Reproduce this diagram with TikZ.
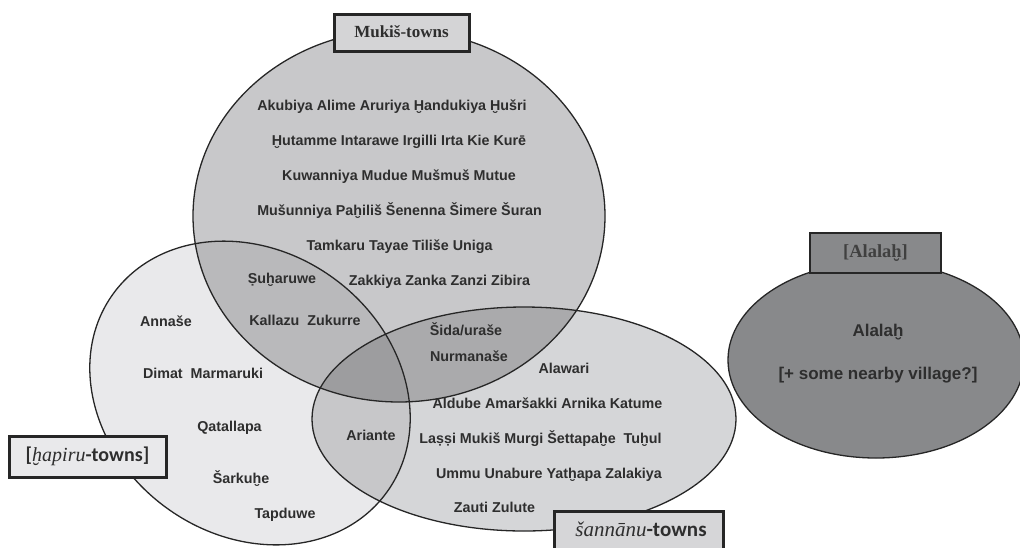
\documentclass[tikz,border=0pt]{standalone}
\usepackage{fontspec}
\setmainfont{Liberation Serif}
\setsansfont{Liberation Sans}
\newfontfamily\calfont{Carlito}
\definecolor{mukc}{HTML}{C8C8CA}
\definecolor{hapc}{HTML}{E9E9EB}
\definecolor{sanc}{HTML}{D5D6D8}
\definecolor{mhc}{HTML}{B9B9BB}
\definecolor{msc}{HTML}{AAAAAC}
\definecolor{hsc}{HTML}{C7C7C9}
\definecolor{tric}{HTML}{9D9D9F}
\definecolor{alc}{HTML}{88898B}
\definecolor{txt}{HTML}{2E2E2E}
\definecolor{edgec}{HTML}{262626}
\definecolor{mukbox}{HTML}{D4D4D6}
\definecolor{hapbox}{HTML}{E9E9EB}
\definecolor{sanbox}{HTML}{D6D6D8}
\tikzset{
  town/.style={font=\sffamily\bfseries\fontsize{14.3}{17}\selectfont, text=txt, inner sep=0pt, text height=10pt, text depth=3pt, anchor=center},
  bigtown/.style={town, font=\sffamily\bfseries\fontsize{17}{20}\selectfont},
  outline/.style={draw=edgec, line width=1.3pt},
  thickbox/.style={draw=edgec, line width=3pt},
  thinbox/.style={draw=edgec, line width=1.2pt},
  boxlabel/.style={text=txt, inner sep=0pt, anchor=center}
}
\begin{document}
\begin{tikzpicture}[x=1pt,y=-1pt]
\useasboundingbox (0,0) rectangle (1020,547);
% base fills
\fill[mukc] (399,216) ellipse [x radius=206, y radius=186];
\fill[hapc, rotate around={-36:(250,393)}] (250,393) ellipse [x radius=169, y radius=142];
\fill[sanc] (524,419) ellipse [x radius=212, y radius=112];
% overlaps
\begin{scope}
  \clip (399,216) ellipse [x radius=206, y radius=186];
  \fill[mhc, rotate around={-36:(250,393)}] (250,393) ellipse [x radius=169, y radius=142];
\end{scope}
\begin{scope}
  \clip (399,216) ellipse [x radius=206, y radius=186];
  \fill[msc] (524,419) ellipse [x radius=212, y radius=112];
\end{scope}
\begin{scope}
  \clip[rotate around={-36:(250,393)}] (250,393) ellipse [x radius=169, y radius=142];
  \fill[hsc] (524,419) ellipse [x radius=212, y radius=112];
\end{scope}
\begin{scope}
  \clip (399,216) ellipse [x radius=206, y radius=186];
  \clip[rotate around={-36:(250,393)}] (250,393) ellipse [x radius=169, y radius=142];
  \fill[tric] (524,419) ellipse [x radius=212, y radius=112];
\end{scope}
\fill[alc] (876,360) ellipse [x radius=148, y radius=98];
% outlines
\draw[outline] (399,216) ellipse [x radius=206, y radius=186];
\draw[outline, rotate around={-36:(250,393)}] (250,393) ellipse [x radius=169, y radius=142];
\draw[outline] (524,419) ellipse [x radius=212, y radius=112];
\draw[outline] (876,360) ellipse [x radius=148, y radius=98];
% boxes
\draw[thickbox, fill=mukbox] (334,14) rectangle (469,51);
\node[boxlabel, font=\rmfamily\bfseries\fontsize{17}{20}\selectfont] (mukisbox) at (401.5,32) {Mukiš-towns};
\draw[thinbox, fill=alc] (810,233) rectangle (941,273);
\node[boxlabel, text=black!75, font=\rmfamily\bfseries\fontsize{18.5}{22}\selectfont] (alalahbox) at (875.5,253) {[Alalaḫ]};
\draw[thickbox, fill=hapbox] (9,436) rectangle (166,477);
\node[boxlabel, font=\fontsize{20}{24}\selectfont] (hapirubox) at (87.5,456) {{\calfont\bfseries [}{\rmfamily\itshape ḫapiru}{\calfont\bfseries -towns]}};
\draw[thickbox, fill=sanbox] (554,511) rectangle (723,570);
\node[boxlabel, font=\fontsize{21}{24}\selectfont] (sannanubox) at (641,529) {{\rmfamily\itshape šannānu}{\calfont\bfseries -towns}};
% Mukiš towns
\node[town] (m1) at (392,107) {Akubiya Alime Aruriya Ḫandukiya Ḫušri};
\node[town] (m2) at (399,142) {Ḫutamme Intarawe Irgilli Irta Kie Kurē};
\node[town] (m3) at (399,177) {Kuwanniya Mudue Mušmuš Mutue};
\node[town] (m4) at (399.5,212) {Mušunniya Paḫiliš Šenenna Šimere Šuran};
\node[town] (m5) at (399.5,247) {Tamkaru Tayae Tiliše Uniga};
\node[town] (m6) at (439.5,282) {Zakkiya Zanka Zanzi Zibira};
% Mukiš & hapiru
\node[town] (mh1) at (282,280) {Ṣuḫaruwe};
\node[town] (mh2) at (305,322) {Kallazu\ \ Zukurre};
% hapiru
\node[town] (h1) at (166,323) {Annaše};
\node[town] (h2) at (203,375) {Dimat\ \ Marmaruki};
\node[town] (h3) at (229.5,428) {Qatallapa};
\node[town] (h4) at (241,480) {Šarkuḫe};
\node[town] (h5) at (285,515) {Tapduwe};
% hapiru & sannanu
\node[town] (hs1) at (371,437) {Ariante};
% Mukiš & sannanu
\node[town] (ms1) at (466,332) {Šida/uraše};
\node[town] (ms2) at (469,358) {Nurmanaše};
% sannanu
\node[town] (s1) at (564,370) {Alawari};
\node[town] (s2) at (547.5,405) {Aldube Amaršakki Arnika Katume};
\node[town] (s3) at (540.5,440) {Laṣṣi Mukiš Murgi Šettapaḫe\ \ Tuḫul};
\node[town] (s4) at (549,475) {Ummu Unabure Yatḫapa Zalakiya};
\node[town] (s5) at (494.5,509) {Zauti Zulute};
% Alalah
\node[bigtown] (a1) at (878,333) {Alalaḫ};
\node[bigtown] (a2) at (878,376) {[+ some nearby village?]};
\end{tikzpicture}
\end{document}
